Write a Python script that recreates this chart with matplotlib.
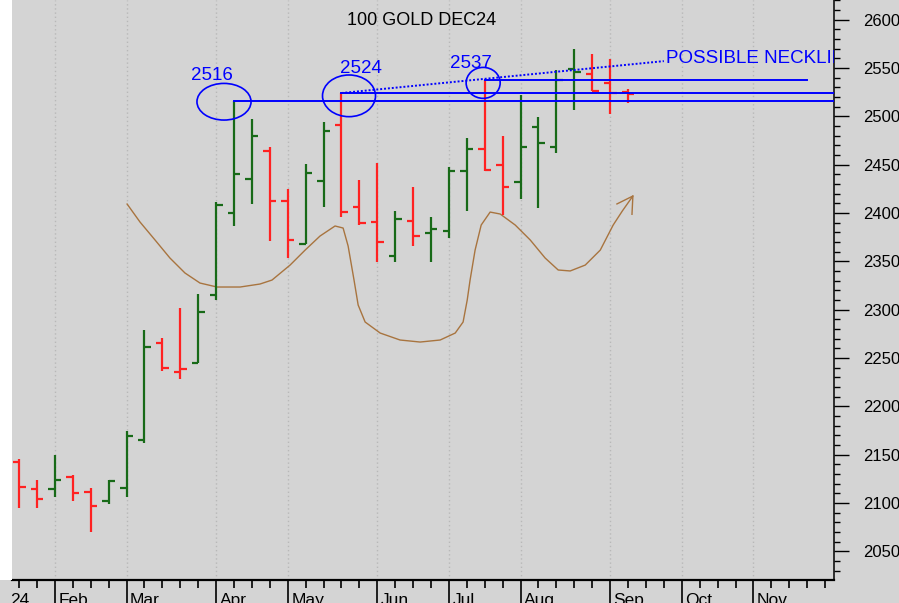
import numpy as np
import matplotlib.pyplot as plt
from matplotlib.patches import Ellipse, Rectangle
from matplotlib.ticker import MultipleLocator, FixedLocator, NullFormatter

plt.rcParams['font.family'] = ['Liberation Sans', 'DejaVu Sans']

# Weekly bars (Friday closes), week 0 = 19 Jan 2024
opens = [2142.5, 2114.5, 2114.5, 2126.5, 2111.5, 2102.5, 2116.0, 2165.5, 2265.5, 2236.0,
         2245.0, 2315.0, 2400.0, 2435.5, 2464.5, 2412.5, 2368.0, 2433.5, 2491.0, 2406.5,
         2390.5, 2355.5, 2392.0, 2379.0, 2381.0, 2443.5, 2466.5, 2449.5, 2431.5, 2489.0,
         2468.5, 2549.0, 2543.5, 2534.5, 2525.5]
highs = [2146.0, 2123.5, 2149.5, 2129.5, 2115.5, 2123.5, 2174.0, 2278.5, 2271.0, 2301.5,
         2316.0, 2411.5, 2516.0, 2497.5, 2468.0, 2424.5, 2451.0, 2494.5, 2524.0, 2434.0,
         2451.5, 2402.0, 2426.5, 2396.0, 2448.0, 2477.0, 2537.0, 2480.0, 2522.0, 2499.0,
         2548.0, 2570.0, 2564.0, 2559.0, 2528.5]
lows = [2094.5, 2094.5, 2106.5, 2102.5, 2070.5, 2099.5, 2106.5, 2162.5, 2236.5, 2228.5,
        2245.0, 2310.0, 2386.0, 2409.0, 2371.0, 2353.0, 2368.0, 2406.5, 2395.5, 2387.5,
        2349.5, 2349.5, 2366.0, 2349.5, 2374.0, 2402.0, 2443.5, 2398.0, 2414.0, 2405.0,
        2461.5, 2506.5, 2526.0, 2502.0, 2513.5]
closes = [2116.5, 2104.5, 2123.5, 2110.5, 2096.5, 2122.5, 2169.5, 2261.0, 2240.0, 2238.5,
          2298.0, 2408.0, 2440.0, 2479.5, 2412.5, 2372.5, 2441.5, 2485.0, 2401.0, 2390.0,
          2369.5, 2393.5, 2376.5, 2383.5, 2443.5, 2466.5, 2444.5, 2427.0, 2468.5, 2472.0,
          2537.0, 2545.5, 2526.0, 2524.0, 2523.0]

month_names = ['Feb', 'Mar', 'Apr', 'May', 'Jun', 'Jul', 'Aug', 'Sep', 'Oct', 'Nov']
month_starts = [2, 6, 11, 15, 20, 24, 28, 33, 37, 41]

# swing highs that get a circle and a level line
peak_weeks = [12, 18, 26]
level_ends = [45.5, 45.5, 44]
neckline_end = (36.0, 2557)

# hand-drawn inverse head & shoulders sketch
curve_week = [6.03, 6.75, 7.59, 8.42, 9.26, 10.10, 11.05, 12.34, 13.45, 14.12,
              15.13, 15.97, 16.80, 17.64, 18.09, 18.37, 18.70, 18.93, 19.32, 20.16,
              21.27, 22.39, 23.51, 24.35, 24.79, 25.02, 25.18, 25.46, 25.80, 26.30,
              26.86, 27.70, 28.54, 29.37, 30.10, 30.77, 31.61, 32.45, 33.17, 33.68, 34.27]
curve_price = [2409.2, 2390.6, 2372.0, 2353.4, 2337.9, 2327.5, 2323.4, 2323.4, 2326.5, 2330.6,
               2346.1, 2361.6, 2376.1, 2386.5, 2384.4, 2365.8, 2330.6, 2304.8, 2287.2, 2275.8,
               2268.6, 2266.5, 2268.6, 2275.8, 2287.2, 2309.9, 2330.6, 2361.6, 2387.5, 2400.9,
               2398.9, 2387.5, 2372.0, 2353.4, 2341.0, 2340.0, 2346.1, 2361.6, 2387.5, 2402.0, 2417.5]
arrow_week = [33.38, 34.27, 34.22]
arrow_price = [2409.3, 2417.5, 2398.6]

bg = '#d4d4d4'
up_col = '#186a18'
down_col = '#ff2222'
blue = '#0000ff'
brown = '#a8743f'

fig = plt.figure(figsize=(8.99, 6.03), dpi=100, facecolor=bg)
ax = fig.add_axes([0.0133, 0.0381, 0.9144, 0.9619], facecolor=bg)
fig.patches.append(Rectangle((0, 0.0381), 0.0133, 0.9619, transform=fig.transFigure,
                             facecolor='white', edgecolor='none', zorder=0))

idx = np.arange(len(closes))
o = np.array(opens)
h = np.array(highs)
l = np.array(lows)
c = np.array(closes)
prev = np.concatenate([[o[0]], c[:-1]])
cols = [up_col if c[k] > prev[k] else down_col for k in range(len(c))]

tick = 0.36
ax.vlines(idx, l, h, colors=cols, lw=1.6, zorder=3)
ax.hlines(o, idx - tick, idx, colors=cols, lw=1.6, zorder=3)
ax.hlines(c, idx, idx + tick, colors=cols, lw=1.6, zorder=3)

# level lines from each swing high
label_offsets = [(-15.8, 18.5), (13.9, 17.5), (-9.8, 12.2)]
ellipses = [(11.44, 2515.0, 3.02, 37.9), (18.42, 2521.1, 2.96, 43.1), (25.91, 2534.5, 1.9, 32.0)]
for w, end, off, el in zip(peak_weeks, level_ends, label_offsets, ellipses):
    lvl = highs[w]
    ax.plot([w, end], [lvl, lvl], color=blue, lw=1.4, zorder=4)
    ax.annotate(f'{lvl:.0f}', xy=(w, lvl), xytext=off, textcoords='offset points',
                ha='center', va='center', color=blue, fontsize=13.5, zorder=5)
    ax.add_patch(Ellipse((el[0], el[1]), el[2], el[3], fill=False, ec=blue, lw=1.2, zorder=5))

w0 = peak_weeks[1]
ax.plot([w0, neckline_end[0]], [highs[w0], neckline_end[1]], color=blue, lw=1.4,
        ls=(0, (1, 1)), zorder=4)
ax.text(36.13, 2560, 'POSSIBLE NECKLINE', color=blue, fontsize=13.5, va='center',
        ha='left', clip_on=True, zorder=5)

ax.plot(curve_week, curve_price, color=brown, lw=1.0, zorder=2)
ax.plot(arrow_week, arrow_price, color=brown, lw=1.0, zorder=2)

ax.text(0.498, 0.9638, '100 GOLD DEC24', transform=ax.transAxes, ha='center', va='center',
        fontsize=13, color='black')

ax.set_xlim(-0.4, 45.5)
ax.set_ylim(2020.4, 2620.2)

for s in ['top', 'left']:
    ax.spines[s].set_visible(False)
ax.spines['bottom'].set_linewidth(1.6)
ax.spines['right'].set_linewidth(1.1)

ax.yaxis.tick_right()
ax.yaxis.set_major_locator(MultipleLocator(50))
ax.yaxis.set_minor_locator(MultipleLocator(10))
ax.tick_params(axis='y', which='major', length=11, width=1, pad=10, labelsize=12)
ax.tick_params(axis='y', which='minor', length=4.5, width=1)

ax.xaxis.set_major_locator(FixedLocator(month_starts))
ax.xaxis.set_minor_locator(MultipleLocator(1))
ax.xaxis.set_major_formatter(NullFormatter())
ax.tick_params(axis='x', which='major', length=17, width=1.2)
ax.tick_params(axis='x', which='minor', length=5.5, width=1.2)
ax.grid(axis='x', which='major', color='#b8b8b8', ls=(0, (1, 2)), lw=1)

for name, m in zip(month_names, month_starts):
    ax.annotate(name, xy=(m, 0), xycoords=('data', 'axes fraction'), xytext=(2.5, -9.4),
                textcoords='offset points', ha='left', va='top', fontsize=12.5,
                annotation_clip=False)
ax.annotate('24', xy=(0, 0), xycoords='axes fraction', xytext=(-1.5, -9.4),
            textcoords='offset points', ha='left', va='top', fontsize=12.5,
            annotation_clip=False)

fig.savefig('out.png', dpi=100, facecolor=bg)
